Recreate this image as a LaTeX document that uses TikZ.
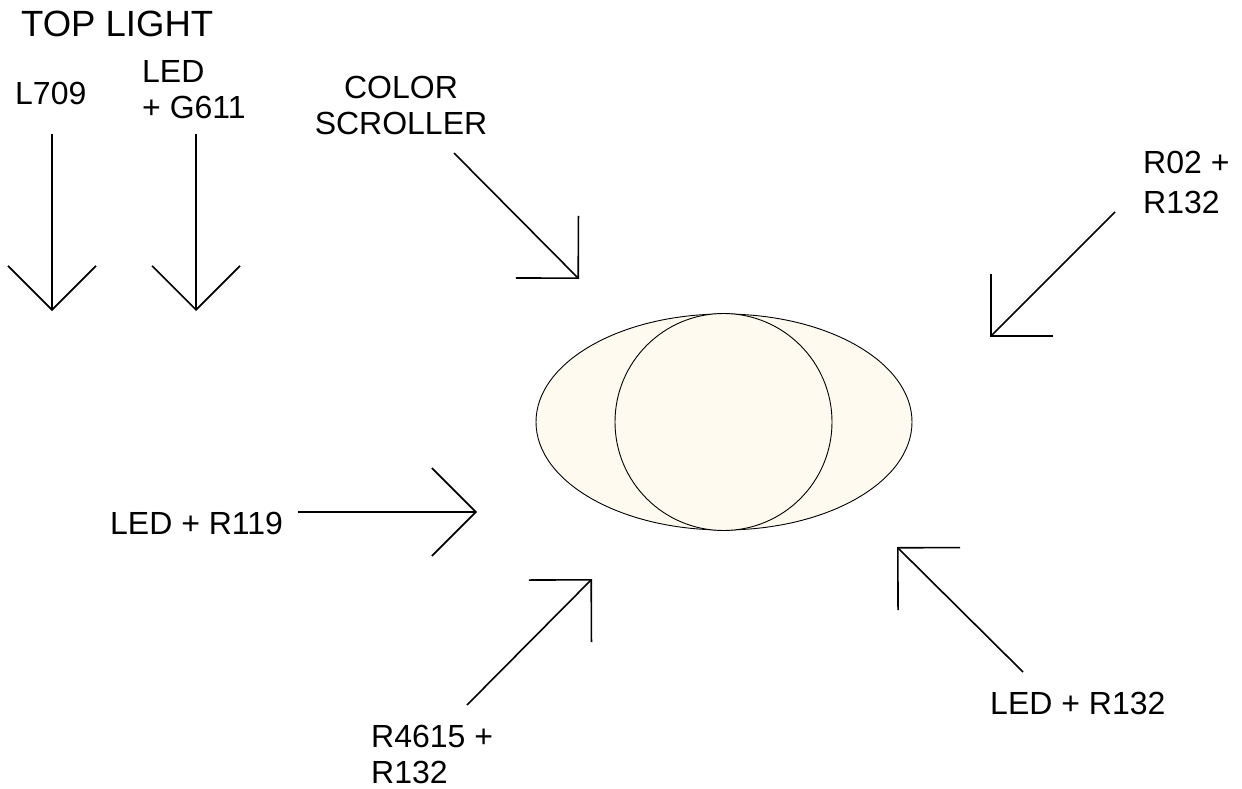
\documentclass[tikz,border=0pt]{standalone}
\usepackage{fontspec}
\setmainfont{Liberation Sans}
\usetikzlibrary{arrows.meta}
\definecolor{lensfill}{HTML}{FEFAF0}
\begin{document}
\begin{tikzpicture}[x=1pt,y=-1pt,
  lbl/.style={inner sep=0pt,font=\fontsize{32}{36}\selectfont},
  ray/.style={line width=1.6pt,-{Straight Barb[length=44pt,width=88pt,line width=1.6pt]}},
  lens/.style={draw=black,line width=0.9pt,fill=lensfill}]
\useasboundingbox (0,0) rectangle (1242,789);
% lens
\coordinate (c) at (724,422);
\filldraw[lens] (c) ellipse [x radius=188pt, y radius=108pt];
\filldraw[lens] (723.5,422) circle [radius=108.5pt];
% labels
\node[inner sep=0pt,anchor=base west,font=\fontsize{36.5}{40}\selectfont] (top) at (21,37) {TOP LIGHT};
\node[lbl,anchor=base west] (l709) at (15,105) {L709};
\node[lbl,anchor=north west,align=left] (ledg) at (142,60) {LED\\+ G611};
\node[lbl,anchor=north,align=center] (cs) at (401,76) {COLOR\\SCROLLER};
\node[lbl,anchor=north west,align=left,font=\fontsize{32}{40}\selectfont] (r02) at (1143,151) {R02 +\\R132};
\node[lbl,anchor=base west] (led119) at (110,534) {LED + R119};
\node[lbl,anchor=north west,align=left] (r4615) at (371,725) {R4615 +\\R132};
\node[lbl,anchor=base west] (led132) at (990,714) {LED + R132};
% ray ends
\coordinate (a1s) at (52,134);   \coordinate (a1e) at (52,311);
\coordinate (a2s) at (196,134);  \coordinate (a2e) at (196,311);
\coordinate (a3s) at (454,153);  \coordinate (a3e) at (579,279);
\coordinate (a4s) at (1115,212); \coordinate (a4e) at (990,337);
\coordinate (a5s) at (298,512);  \coordinate (a5e) at (477,512);
\coordinate (a6s) at (467,705);  \coordinate (a6e) at (592,579);
\coordinate (a7s) at (1023,672); \coordinate (a7e) at (897,547);
\draw[ray] (a1s) -- (a1e);
\draw[ray] (a2s) -- (a2e);
\draw[ray] (a3s) -- (a3e);
\draw[ray] (a4s) -- (a4e);
\draw[ray] (a5s) -- (a5e);
\draw[ray] (a6s) -- (a6e);
\draw[ray] (a7s) -- (a7e);
\end{tikzpicture}
\end{document}
